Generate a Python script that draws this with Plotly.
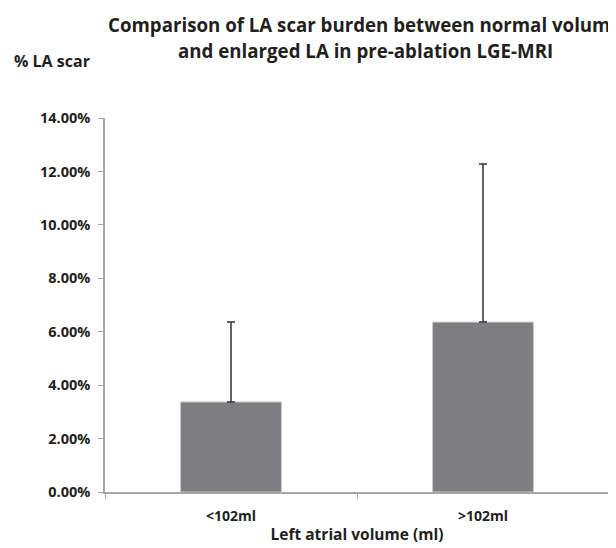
import plotly.graph_objects as go

categories = ["<102ml", ">102ml"]
scar_mean = [0.0337, 0.0636]
scar_sd_upper = [0.0299, 0.0592]
y_ticks = [0, 0.02, 0.04, 0.06, 0.08, 0.10, 0.12, 0.14]

FONT = "Open Sans"
fig = go.Figure()
fig.add_trace(go.Bar(
    x=categories, y=scar_mean, width=0.4,
    marker=dict(color="#7e7e82", line=dict(color="#c8c8c8", width=1)),
    error_y=dict(type="data", symmetric=False, array=scar_sd_upper,
                 arrayminus=[0, 0], color="#333333", thickness=1.5, width=4),
))
# page has an 8px body margin; figure is sized so the plot area lands at x 105-609, y 118-492
fig.update_layout(
    width=608, height=540,
    margin=dict(l=97, r=7, t=110, b=56, autoexpand=False),
    plot_bgcolor="white", paper_bgcolor="white",
    showlegend=False,
    font=dict(family=FONT, size=14, color="#231f20", weight="bold"),
)
fig.update_yaxes(
    range=[0, 0.14], tickvals=y_ticks, tickformat=".2%", automargin=False,
    showline=True, linecolor="#a6a6a6", linewidth=1.5,
    ticks="outside", ticklen=5, tickcolor="#a6a6a6",
    showgrid=False, zeroline=False,
    tickfont=dict(family=FONT, size=14.5, weight="bold"), ticklabelstandoff=5,
)
fig.update_xaxes(
    automargin=False,
    showline=True, linecolor="#a6a6a6", linewidth=1.5,
    ticks="outside", ticklen=5, tickcolor="#a6a6a6", tickson="boundaries",
    tickfont=dict(family=FONT, size=14, weight="bold"), ticklabelstandoff=10,
    title=dict(text="Left atrial volume (ml)", font=dict(family=FONT, size=15.5, weight="bold"), standoff=6),
)
W, H = 504, 374
fig.add_annotation(text="Comparison of LA scar burden between normal volume",
                   xref="paper", yref="paper", x=(365 - 105) / W, y=(492 - 25) / H,
                   xanchor="center", yanchor="middle", showarrow=False,
                   font=dict(family=FONT, size=18.7, weight="bold"))
fig.add_annotation(text="and enlarged LA in pre-ablation LGE-MRI",
                   xref="paper", yref="paper", x=(365 - 105) / W, y=(492 - 51) / H,
                   xanchor="center", yanchor="middle", showarrow=False,
                   font=dict(family=FONT, size=18.7, weight="bold"))
fig.add_annotation(text="% LA scar", xref="paper", yref="paper",
                   x=(16 - 105) / W, y=(492 - 61) / H, xanchor="left",
                   yanchor="middle", showarrow=False, xshift=-4,
                   font=dict(family=FONT, size=16, weight="bold"))
fig.write_html("out.html")
